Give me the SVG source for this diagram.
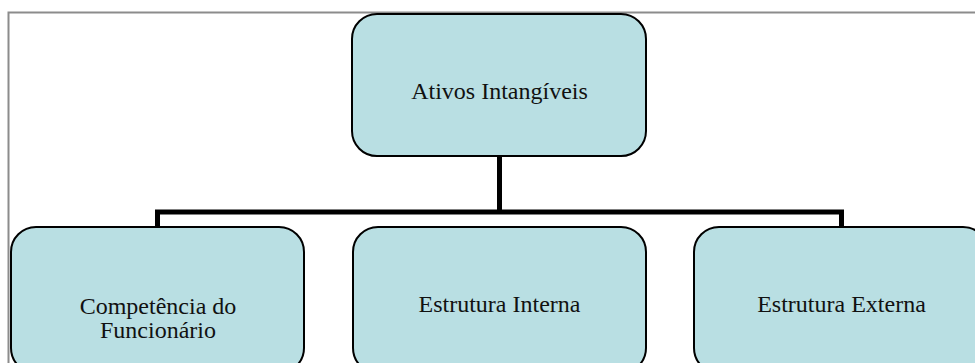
<svg xmlns="http://www.w3.org/2000/svg" width="975" height="363" viewBox="0 0 975 363">
  <style>
    .frame { fill: none; stroke: #8c8c8c; stroke-width: 2; }
    .box { fill: #b9dfe3; stroke: #000; stroke-width: 2; }
    .label { font-family: "Liberation Serif", "Times New Roman", serif; font-size: 24px; fill: #111; text-anchor: middle; }
    .link { fill: none; stroke: #000; stroke-width: 5; stroke-linejoin: miter; }
  </style>
  <rect width="975" height="363" fill="#fff"/>
  <!-- outer frame (top and left edges visible) -->
  <path class="frame" d="M8.5,363 V12.5 H975"/>

  <g id="connectors">
    <path class="link" d="M499.5,156 V212"/>
    <path class="link" d="M157.5,227 V212 H841.5 V227"/>
  </g>

  <g id="ativos-intangiveis">
    <rect class="box" x="352" y="14" width="294" height="142" rx="25" ry="25"/>
    <text class="label" x="499.5" y="99">Ativos Intangíveis</text>
  </g>

  <g id="competencia-funcionario">
    <rect class="box" x="11" y="227" width="293" height="146" rx="25" ry="25"/>
    <text class="label" x="158" y="314">Competência do</text>
    <text class="label" x="158" y="338">Funcionário</text>
  </g>

  <g id="estrutura-interna">
    <rect class="box" x="353" y="227" width="293" height="146" rx="25" ry="25"/>
    <text class="label" x="499.5" y="312">Estrutura Interna</text>
  </g>

  <g id="estrutura-externa">
    <rect class="box" x="694" y="227" width="294" height="146" rx="25" ry="25"/>
    <text class="label" x="841.5" y="312">Estrutura Externa</text>
  </g>
</svg>
